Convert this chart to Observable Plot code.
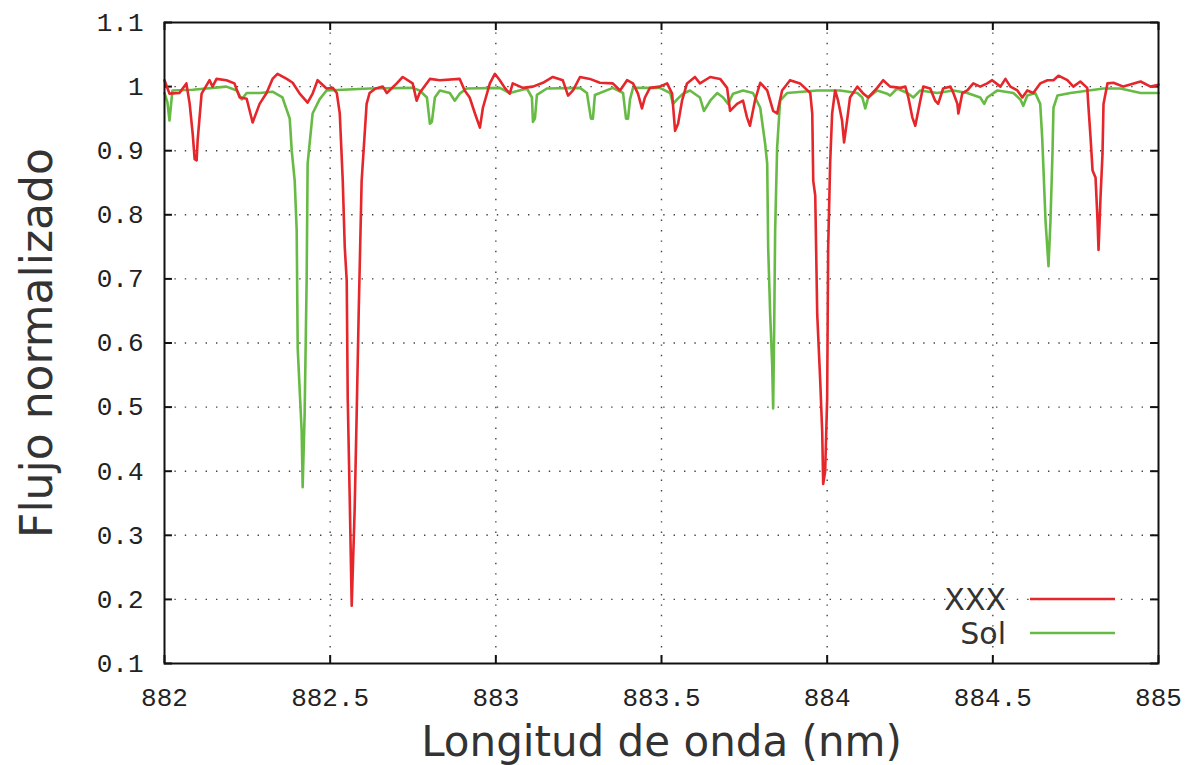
<!DOCTYPE html>
<html>
<head>
<meta charset="utf-8">
<script src="https://cdn.jsdelivr.net/npm/d3@7"></script>
<script src="https://cdn.jsdelivr.net/npm/@observablehq/plot@0.6"></script>
<style>
  html, body { margin: 0; padding: 0; background: #fff; }
  #wrap { position: relative; width: 1193px; height: 765px; }
  #legend { position: absolute; left: 0; top: 0; width: 1193px; height: 765px; pointer-events: none; }
</style>
</head>
<body>
<div id="wrap"></div>
<script>
// Series names
const seriesNames = ["XXX", "Sol"];
const seriesColors = ["#e5262b", "#67bb45"];

// XXX spectrum (wavelength nm, normalized flux)
const xxxWave = [882.000,882.015,882.045,882.066,882.076,882.085,882.091,882.097,882.100,882.112,882.136,882.145,882.157,882.187,882.211,882.227,882.248,882.266,882.287,882.308,882.326,882.341,882.369,882.387,882.408,882.432,882.447,882.462,882.489,882.508,882.520,882.529,882.538,882.544,882.550,882.553,882.559,882.565,882.574,882.580,882.586,882.595,882.610,882.619,882.637,882.659,882.671,882.701,882.719,882.749,882.761,882.770,882.801,882.831,882.891,882.906,882.921,882.937,882.952,882.961,882.982,882.997,883.012,883.027,883.042,883.051,883.082,883.112,883.142,883.172,883.202,883.218,883.233,883.254,883.284,883.314,883.353,883.375,883.396,883.414,883.429,883.441,883.450,883.465,883.495,883.517,883.532,883.541,883.550,883.562,883.577,883.601,883.616,883.647,883.677,883.698,883.707,883.728,883.746,883.758,883.767,883.782,883.798,883.819,883.837,883.849,883.864,883.888,883.918,883.949,883.955,883.958,883.964,883.970,883.979,883.985,883.988,883.994,884.000,884.003,884.009,884.015,884.024,884.033,884.045,884.051,884.060,884.069,884.091,884.109,884.124,884.151,884.169,884.190,884.221,884.236,884.245,884.257,884.266,884.281,884.290,884.311,884.326,884.335,884.350,884.372,884.381,884.393,884.396,884.408,884.423,884.441,884.462,884.483,884.498,884.523,884.538,884.553,884.574,884.589,884.604,884.622,884.643,884.665,884.683,884.698,884.725,884.743,884.764,884.785,884.788,884.795,884.801,884.810,884.816,884.819,884.825,884.831,884.834,884.846,884.864,884.894,884.946,884.976,885.000];
const xxxFlux = [1.010,0.989,0.990,1.005,0.973,0.927,0.887,0.885,0.916,0.989,1.010,1.000,1.012,1.010,1.005,0.983,0.981,0.944,0.973,0.990,1.012,1.020,1.012,1.006,0.989,0.975,0.989,1.010,0.997,0.998,0.990,0.958,0.853,0.750,0.697,0.514,0.358,0.190,0.342,0.489,0.645,0.853,0.973,0.990,0.997,1.000,0.990,1.005,1.015,1.005,0.978,0.990,1.012,1.010,1.012,0.994,0.983,0.958,0.936,0.967,1.005,1.020,1.010,0.998,0.989,1.005,0.998,1.000,1.006,1.015,1.010,0.986,0.994,1.015,1.012,1.006,1.005,0.994,1.010,1.005,0.989,0.966,0.983,0.998,1.000,1.005,0.989,0.931,0.942,0.978,1.005,1.015,1.005,1.015,1.012,0.998,0.962,0.973,0.978,0.952,0.939,0.978,1.006,0.994,0.962,0.958,0.994,1.010,1.005,0.990,0.958,0.853,0.830,0.645,0.541,0.462,0.380,0.400,0.514,0.748,0.880,0.958,0.994,0.978,0.947,0.913,0.947,0.983,1.000,0.989,0.983,0.998,1.010,1.000,0.998,1.000,0.983,0.952,0.939,0.978,1.000,0.997,0.978,0.973,0.997,1.000,0.990,0.973,0.958,0.990,0.994,1.005,1.000,1.005,1.010,1.000,1.012,1.000,0.994,0.983,0.994,0.990,1.005,1.010,1.010,1.017,1.010,1.000,1.008,0.998,0.973,0.920,0.869,0.858,0.791,0.745,0.827,0.895,0.973,1.005,1.006,1.000,1.008,1.000,1.003];

// Sol spectrum (wavelength nm, normalized flux)
const solWave = [882.000,882.009,882.015,882.024,882.085,882.187,882.218,882.233,882.248,882.287,882.326,882.356,882.378,882.384,882.393,882.399,882.402,882.414,882.417,882.423,882.429,882.432,882.447,882.468,882.489,882.619,882.749,882.770,882.792,882.801,882.807,882.816,882.831,882.861,882.876,882.891,882.912,883.012,883.042,883.094,883.109,883.112,883.118,883.124,883.154,883.254,883.275,883.287,883.293,883.299,883.353,883.384,883.393,883.399,883.405,883.414,883.495,883.526,883.535,883.547,883.565,883.586,883.616,883.628,883.647,883.668,883.686,883.701,883.716,883.746,883.776,883.798,883.813,883.819,883.822,883.828,883.834,883.837,883.840,883.843,883.849,883.858,883.879,883.970,884.039,884.091,884.106,884.115,884.124,884.151,884.181,884.190,884.211,884.242,884.260,884.281,884.332,884.381,884.423,884.462,884.474,884.483,884.514,884.562,884.583,884.592,884.604,884.628,884.643,884.649,884.653,884.659,884.668,884.674,884.680,884.683,884.695,884.734,884.834,884.885,884.946,885.000];
const solFlux = [0.990,0.975,0.947,0.994,0.995,1.000,0.994,0.980,0.990,0.990,0.992,0.983,0.950,0.900,0.853,0.775,0.592,0.462,0.375,0.490,0.697,0.880,0.958,0.980,0.994,0.997,0.998,0.994,0.983,0.942,0.945,0.983,0.994,0.990,0.978,0.989,0.997,0.998,0.990,0.997,0.983,0.945,0.950,0.987,0.997,0.998,0.990,0.950,0.950,0.987,0.998,0.990,0.950,0.950,0.980,0.998,0.998,0.990,0.973,0.980,0.989,0.994,0.983,0.962,0.978,0.990,0.983,0.973,0.989,0.994,0.990,0.967,0.910,0.880,0.748,0.645,0.567,0.498,0.619,0.775,0.905,0.978,0.990,0.994,0.994,0.990,0.983,0.966,0.983,0.994,0.989,0.986,0.997,0.990,0.983,0.994,0.990,0.994,0.990,0.983,0.973,0.983,0.994,0.990,0.980,0.970,0.986,0.990,0.973,0.920,0.869,0.791,0.720,0.791,0.895,0.967,0.986,0.990,0.997,0.997,0.990,0.990];

// Axis ticks
const xTicks = [882, 882.5, 883, 883.5, 884, 884.5, 885];
const yTicks = [0.1, 0.2, 0.3, 0.4, 0.5, 0.6, 0.7, 0.8, 0.9, 1.0, 1.1];
const xLabel = "Longitud de onda (nm)";
const yLabel = "Flujo normalizado";

const xxx = xxxWave.map((w, i) => ({w, f: xxxFlux[i]}));
const sol = solWave.map((w, i) => ({w, f: solFlux[i]}));

const xDom = [882, 885], yDom = [0.1, 1.1];
const tx = (xDom[1] - xDom[0]) * 0.008; // inward tick length in data units
const ty = (yDom[1] - yDom[0]) * 0.0125;
const innerX = xTicks.slice(1, -1);
const innerY = yTicks.slice(1, -1);
const fmt = d => d3.format("")(d);

const chart = Plot.plot({
  width: 1193,
  height: 765,
  marginLeft: 164,
  marginRight: 35,
  marginTop: 22,
  marginBottom: 102,
  style: {fontFamily: "Liberation Mono", fontSize: "26px", color: "#222", background: "#fff"},
  x: {domain: xDom, ticks: xTicks},
  y: {domain: yDom, ticks: yTicks},
  marks: [
    Plot.gridX(innerX, {stroke: "#444", strokeOpacity: 1, strokeWidth: 1.4, strokeDasharray: "1.4,9"}),
    Plot.gridY(innerY, {stroke: "#444", strokeOpacity: 1, strokeWidth: 1.4, strokeDasharray: "1.4,9"}),
    // inward ticks on all four sides
    Plot.ruleY(yTicks, {y: d => d, x1: xDom[0], x2: xDom[0] + tx, stroke: "#111", strokeWidth: 2}),
    Plot.ruleY(yTicks, {y: d => d, x1: xDom[1] - tx, x2: xDom[1], stroke: "#111", strokeWidth: 2}),
    Plot.ruleX(xTicks, {x: d => d, y1: yDom[0], y2: yDom[0] + ty, stroke: "#111", strokeWidth: 2}),
    Plot.ruleX(xTicks, {x: d => d, y1: yDom[1] - ty, y2: yDom[1], stroke: "#111", strokeWidth: 2}),
    Plot.axisX(xTicks, {tickSize: 0, tickPadding: 24, label: null, fontSize: 26, fill: "#222", tickFormat: fmt}),
    Plot.axisY(yTicks, {tickSize: 0, tickPadding: 21, label: null, fontSize: 26, fill: "#222", tickFormat: fmt}),
    Plot.line(sol, {x: "w", y: "f", stroke: seriesColors[1], strokeWidth: 2.6, curve: "linear"}),
    Plot.line(xxx, {x: "w", y: "f", stroke: seriesColors[0], strokeWidth: 2.6, curve: "linear"}),
    Plot.frame({stroke: "#111", strokeWidth: 2}),
    Plot.text([xLabel], {text: d => d, frameAnchor: "bottom", dy: 92, fontFamily: "DejaVu Sans", fontSize: 42, fill: "#333"}),
    Plot.text([yLabel], {text: d => d, frameAnchor: "left", textAnchor: "middle", dx: -127, rotate: -90, fontFamily: "DejaVu Sans", fontSize: 44, fill: "#333"})
  ]
});

const wrap = document.getElementById("wrap");
wrap.appendChild(chart);

// Legend (inside plot, bottom-right) as an overlay
const ns = "http://www.w3.org/2000/svg";
const lg = document.createElementNS(ns, "svg");
lg.setAttribute("id", "legend");
lg.setAttribute("width", 1193);
lg.setAttribute("height", 765);
const legendRows = [{y: 599}, {y: 633}];
seriesNames.forEach((name, i) => {
  const t = document.createElementNS(ns, "text");
  t.setAttribute("x", 1006);
  t.setAttribute("y", legendRows[i].y);
  t.setAttribute("dy", "0.36em");
  t.setAttribute("text-anchor", "end");
  t.setAttribute("font-family", "DejaVu Sans");
  t.setAttribute("font-size", "30");
  t.setAttribute("fill", "#333");
  t.textContent = name;
  lg.appendChild(t);
  const l = document.createElementNS(ns, "line");
  l.setAttribute("x1", 1030);
  l.setAttribute("x2", 1115);
  l.setAttribute("y1", legendRows[i].y);
  l.setAttribute("y2", legendRows[i].y);
  l.setAttribute("stroke", seriesColors[i]);
  l.setAttribute("stroke-width", 2.6);
  lg.appendChild(l);
});
wrap.appendChild(lg);
</script>
</body>
</html>
